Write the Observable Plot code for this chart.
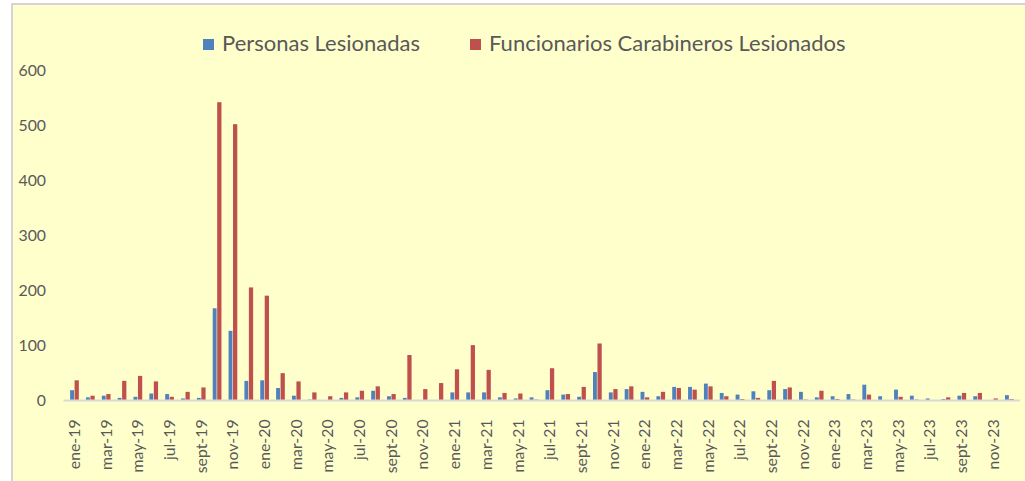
<!DOCTYPE html>
<html>
<head>
<meta charset="utf-8">
<script src="https://cdn.jsdelivr.net/npm/d3@7"></script>
<script src="https://cdn.jsdelivr.net/npm/@observablehq/plot@0.6"></script>
<style>
  html, body { margin: 0; padding: 0; background: #ffffff; }
  #wrap { position: relative; width: 1025px; height: 481px; overflow: hidden; background: #ffffff; font-family: Lato, "Open Sans", sans-serif; }
  #panel { position: absolute; left: 11px; top: 3px; width: 1030px; height: 490px; background: #FFFFCC; border-left: 2px solid #D4D4D4; border-top: 2px solid #D4D4D4; }
  #chart { position: absolute; left: 0; top: 0; }
  #legend { position: absolute; top: 30px; left: 0; width: 1025px; height: 26px; color: #595959; font-size: 22px; }
  .item { position: absolute; top: 0; white-space: nowrap; line-height: 26px; }
  .sw { display: inline-block; width: 11px; height: 11px; margin-right: 8px; vertical-align: 1px; }
</style>
</head>
<body>
<div id="wrap">
  <div id="panel"></div>
  <div id="chart"></div>
  <div id="legend"></div>
</div>
<script>
const months = [
  "ene-19","feb-19","mar-19","abr-19","may-19","jun-19","jul-19","ago-19","sept-19","oct-19","nov-19","dic-19",
  "ene-20","feb-20","mar-20","abr-20","may-20","jun-20","jul-20","ago-20","sept-20","oct-20","nov-20","dic-20",
  "ene-21","feb-21","mar-21","abr-21","may-21","jun-21","jul-21","ago-21","sept-21","oct-21","nov-21","dic-21",
  "ene-22","feb-22","mar-22","abr-22","may-22","jun-22","jul-22","ago-22","sept-22","oct-22","nov-22","dic-22",
  "ene-23","feb-23","mar-23","abr-23","may-23","jun-23","jul-23","ago-23","sept-23","oct-23","nov-23","dic-23"
];
const seriesNames = ["Personas Lesionadas", "Funcionarios Carabineros Lesionados"];
const personas = [
  18, 5, 8, 4, 6, 12, 11, 3, 4, 167, 126, 35,
  36, 22, 8, 1, 0, 4, 5, 17, 7, 4, 0, 0,
  14, 14, 14, 5, 3, 5, 18, 10, 6, 51, 14, 20,
  15, 7, 24, 24, 30, 13, 10, 16, 18, 20, 15, 5,
  7, 11, 28, 7, 19, 8, 3, 2, 8, 7, 0, 9
];
const carabineros = [
  36, 8, 11, 35, 44, 34, 6, 15, 23, 542, 502, 205,
  190, 49, 34, 14, 7, 14, 17, 25, 11, 82, 20, 31,
  56, 100, 55, 13, 12, 1, 58, 11, 24, 103, 20, 25,
  5, 15, 22, 19, 25, 7, 2, 4, 35, 23, 1, 17,
  2, 1, 10, 0, 6, 1, 0, 5, 13, 13, 3, 2
];
const yTicks = [0, 100, 200, 300, 400, 500, 600];
const xTicks = months.filter((d, i) => i % 2 === 0);
const colors = ["#4F81BD", "#C0504D"];

const rowsP = months.map((m, i) => ({month: m, value: personas[i]}));
const rowsC = months.map((m, i) => ({month: m, value: carabineros[i]}));

const chart = Plot.plot({
  width: 1035,
  height: 481,
  marginLeft: 64,
  marginRight: 5,
  marginTop: 71,
  marginBottom: 77,
  style: {background: "transparent", fontFamily: "Lato, 'Open Sans', sans-serif", fontSize: "16px", color: "#595959", overflow: "visible"},
  x: {type: "band", domain: months, padding: 0},
  y: {domain: [0, 600]},
  marks: [
    Plot.barY(rowsP, {x: "month", y: "value", fill: colors[0], insetLeft: 3.8, insetRight: 8.3}),
    Plot.barY(rowsC, {x: "month", y: "value", fill: colors[1], insetLeft: 8.3, insetRight: 3.4}),
    Plot.ruleY([0], {stroke: "#D9D9D9", strokeWidth: 2}),
    Plot.axisY({ticks: yTicks, tickSize: 0, tickPadding: 18, label: null, fill: "#595959", fontSize: 16}),
    Plot.axisX({ticks: xTicks, tickSize: 0, tickPadding: 19, tickRotate: -90, label: null, fill: "#595959", fontSize: 16})
  ]
});
document.getElementById("chart").appendChild(chart);

const legend = document.getElementById("legend");
const lx = [203, 470];
seriesNames.forEach((name, i) => {
  const it = document.createElement("div");
  it.className = "item";
  it.style.left = lx[i] + "px";
  const sw = document.createElement("span");
  sw.className = "sw";
  sw.style.background = colors[i];
  it.appendChild(sw);
  it.appendChild(document.createTextNode(name));
  legend.appendChild(it);
});
</script>
</body>
</html>
